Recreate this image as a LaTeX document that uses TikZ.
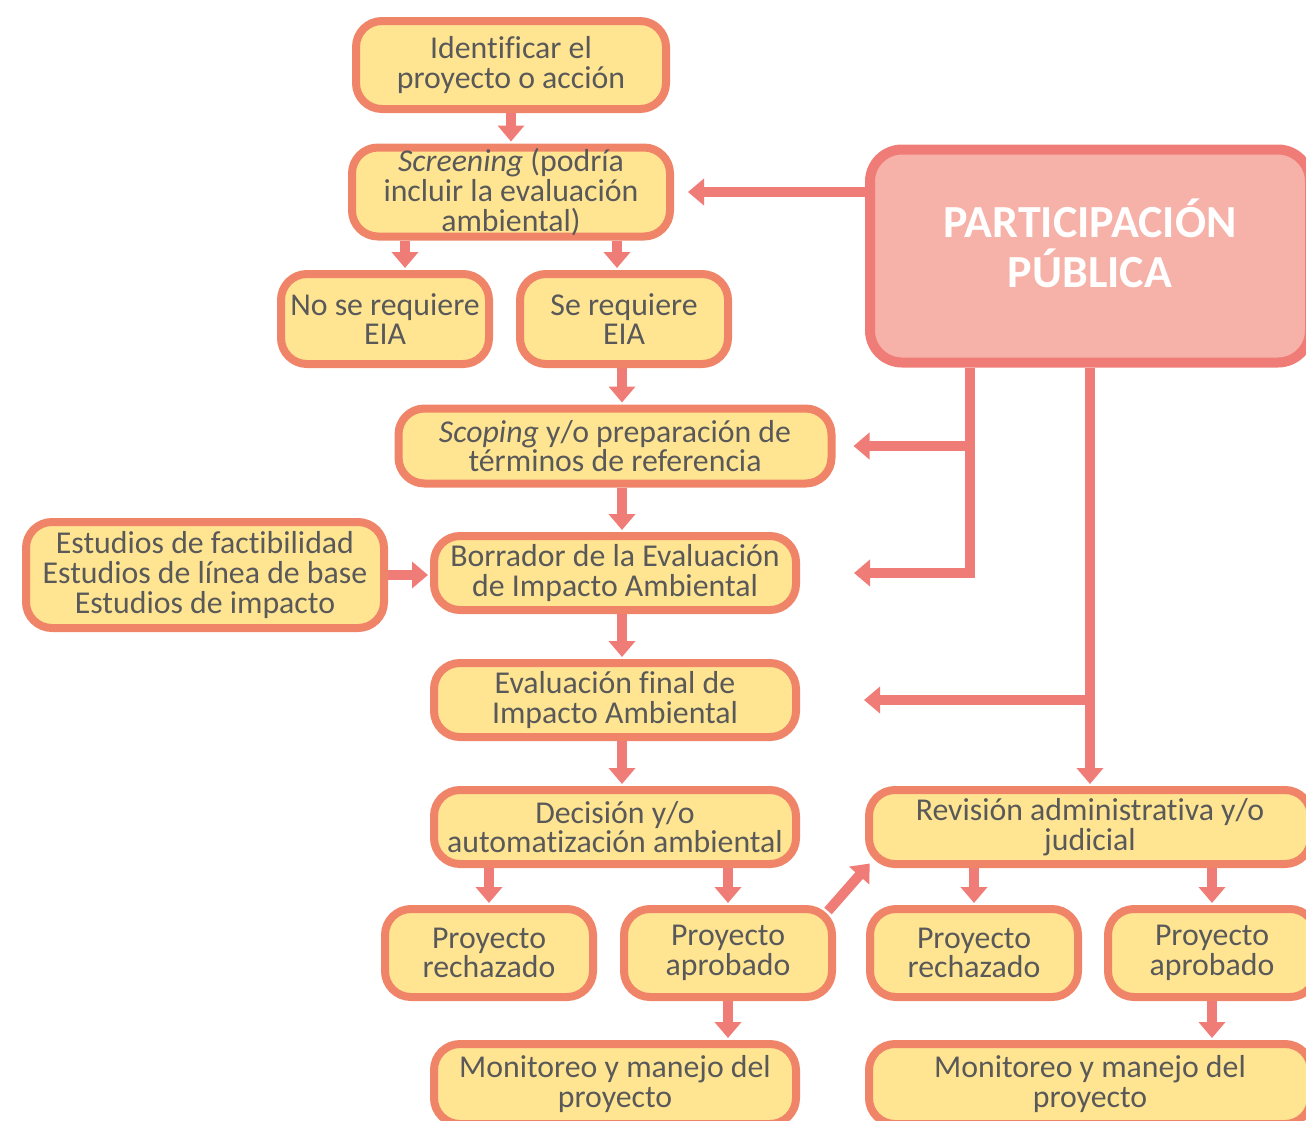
\documentclass[tikz,border=0pt]{standalone}
\usepackage{fontspec}
\setmainfont{Carlito}[Ligatures=NoCommon]
\usetikzlibrary{arrows.meta,calc}

\definecolor{boxfill}{HTML}{FFE592}
\definecolor{boxdraw}{HTML}{F08468}
\definecolor{arrowc}{HTML}{F07C78}
\definecolor{parfill}{HTML}{F6B1A8}
\definecolor{txtc}{HTML}{595959}

\tikzset{
  stage/.style={draw=boxdraw, fill=boxfill, line width=4pt, rounded corners=13pt,
    align=center, text=txtc, font=\fontsize{15.9}{14.8}\selectfont, inner sep=0pt},
  arr/.style={draw=arrowc, line width=5pt, shorten >=1pt,
    -{Triangle[width=13pt,length=8pt]}}
}

\begin{document}
\begin{tikzpicture}[y=0.5pt, x=0.5pt, yscale=-1]
\useasboundingbox (0,0) rectangle (1306,1120);
% left column
\node[stage, minimum width=155pt, minimum height=44pt] (ide) at (511,65) {Identificar el\\proyecto o acción};
\node[stage, minimum width=159pt, minimum height=44.5pt] (scr) at (511,192) {\textit{Screening} (podría\\incluir la evaluación\\ambiental)};
\node[stage, minimum width=104pt, minimum height=45pt] (nore) at (385,319) {No se requiere\\EIA};
\node[stage, minimum width=104pt, minimum height=45pt] (sire) at (624,319) {Se requiere\\EIA};
\node[stage, minimum width=216.5pt, minimum height=37.5pt] (sco) at (615,446) {\textit{Scoping} y/o preparación de\\términos de referencia};
\node[stage, minimum width=179pt, minimum height=53pt] (est) at (205,575) {Estudios de factibilidad\\Estudios de línea de base\\Estudios de impacto};
\node[stage, minimum width=181pt, minimum height=37pt] (bor) at (615,573) {Borrador de la Evaluación\\de Impacto Ambiental};
\node[stage, minimum width=181pt, minimum height=37pt] (eva) at (615,700) {Evaluación final de\\Impacto Ambiental};
\node[stage, minimum width=181pt, minimum height=37pt] (dec) at (615,827) {Decisión y/o\\automatización ambiental};
\node[stage, minimum width=104pt, minimum height=44pt] (rejL) at (489,953) {Proyecto\\rechazado};
\node[stage, minimum width=104pt, minimum height=44pt] (aprL) at (728,953) {Proyecto\\aprobado};
\node[stage, minimum width=181pt, minimum height=40pt] (monL) at (615,1084) {Monitoreo y manejo del\\proyecto};
% right column
\node[stage, draw=arrowc, fill=parfill, line width=5pt, rounded corners=16pt,
  minimum width=220pt, minimum height=106.5pt] (par) at (1090,256) {};
\node[font=\fontsize{23}{25}\selectfont\bfseries, text=white, align=center] (partxt) at (1090,243) {PARTICIPACIÓN\\PÚBLICA};
\node[stage, minimum width=221pt, minimum height=37pt] (rev) at (1090,827) {Revisión administrativa y/o\\judicial};
\node[stage, minimum width=104pt, minimum height=44pt] (rejR) at (974,953) {Proyecto\\rechazado};
\node[stage, minimum width=104pt, minimum height=44pt] (aprR) at (1212,953) {Proyecto\\aprobado};
\node[stage, minimum width=221pt, minimum height=40pt] (monR) at (1090,1084) {Monitoreo y manejo del\\proyecto};

% main flow
\coordinate (col) at (622,0);
\coordinate (s1) at ($(scr.south)+(-106,0)$);
\coordinate (s2) at ($(scr.south)+(106,0)$);
\draw[arr] (ide.south) -- (scr.north);
\draw[arr] (s1) -- (s1 |- nore.north);
\draw[arr] (s2) -- (s2 |- sire.north);
\draw[arr] (col |- sire.south) -- (col |- sco.north);
\draw[arr] (col |- sco.south) -- (col |- bor.north);
\draw[arr] (col |- bor.south) -- (col |- eva.north);
\draw[arr] (col |- eva.south) -- (col |- dec.north);
\draw[arr] (est.east) -- (est.east -| bor.west);
\draw[arr] (dec.south -| rejL.north) -- (rejL.north);
\draw[arr] (dec.south -| aprL.north) -- (aprL.north);
\draw[arr] (aprL.south) -- (aprL.south |- monL.north);
\draw[arr] ($(aprL.north east)+(-8,6)$) -- ($(rev.south west)+(6,-6)$);
\draw[arr] (rev.south -| rejR.north) -- (rejR.north);
\draw[arr] (rev.south -| aprR.north) -- (aprR.north);
\draw[arr] (aprR.south) -- (aprR.south |- monR.north);

% public participation
\coordinate (pl) at ($(par.south west)+(105,0)$);
\draw[arr] (par.west |- scr.east) -- ($(scr.east)+(12,0)$);
\draw[arr] (pl) |- ($(bor.east)+(52,0)$);
\draw[arr] (pl |- sco.east) -- ($(sco.east)+(16,0)$);
\draw[arr] (par.south) -- (par.south |- rev.north);
\draw[arr] (par.south |- eva.east) -- ($(eva.east)+(62,0)$);
\end{tikzpicture}
\end{document}
